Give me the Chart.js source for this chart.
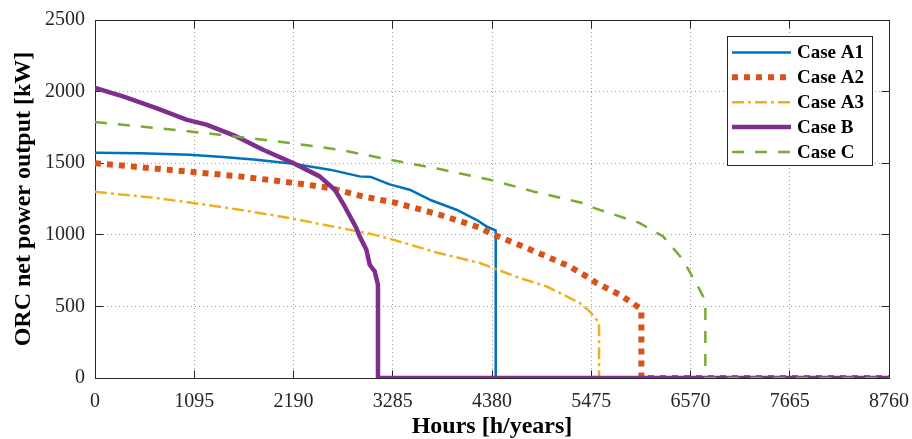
<!DOCTYPE html>
<html>
<head>
<meta charset="utf-8">
<script src="https://cdn.jsdelivr.net/npm/chart.js@4.4.1/dist/chart.umd.min.js"></script>
<style>
    html, body { margin: 0; padding: 0; background: #fff; }
    #wrap { width: 912px; height: 439px; }
</style>
</head>
<body>
<div id="wrap"><canvas id="graficoOrc"></canvas></div>
<script>
// Curvas de duração: horas acumuladas no ano x potência líquida do ORC [kW]
const horasA1 = [0, 500, 1045, 1412, 1780, 2185, 2590, 2920, 3049, 3251, 3472, 3693, 3987, 4208, 4318, 4421, 4421, 8760];
const potA1   = [1573, 1570, 1559, 1543, 1524, 1496, 1455, 1408, 1403, 1352, 1315, 1245, 1175, 1105, 1059, 1030, 0, 0];

const horasA2 = [0, 677, 1081, 1596, 2222, 2590, 2957, 3325, 3803, 4263, 4355, 4722, 5237, 5421, 5532, 5789, 6009, 6028, 6028, 8760];
const potA2   = [1500, 1462, 1438, 1408, 1360, 1327, 1268, 1222, 1140, 1047, 1012, 919, 779, 710, 663, 582, 489, 470, 0, 0];

const horasA3 = [0, 677, 1081, 1596, 2148, 2590, 3031, 3288, 3766, 4244, 4686, 4980, 5348, 5458, 5550, 5561, 5561, 8760];
const potA3   = [1300, 1257, 1222, 1175, 1117, 1062, 1008, 966, 877, 803, 698, 640, 524, 465, 395, 380, 0, 0];

const horasB = [0, 309, 677, 1008, 1229, 1560, 1854, 2185, 2479, 2645, 2755, 2884, 2920, 2994, 3031, 3086, 3122, 3122, 8760];
const potB   = [2025, 1966, 1885, 1804, 1769, 1687, 1594, 1501, 1408, 1315, 1198, 1047, 989, 896, 791, 744, 651, 0, 0];

const horasC = [0, 1045, 1596, 2148, 2700, 3251, 3803, 4355, 4833, 5384, 5495, 6009, 6267, 6487, 6671, 6726, 6734, 6734, 8760];
const potC   = [1788, 1722, 1683, 1641, 1594, 1524, 1459, 1385, 1303, 1222, 1190, 1082, 989, 826, 617, 547, 530, 0, 0];

const casos = ['Case A1', 'Case A2', 'Case A3', 'Case B', 'Case C'];
const ticksX = [0, 1095, 2190, 3285, 4380, 5475, 6570, 7665, 8760];
const ticksY = [0, 500, 1000, 1500, 2000, 2500];

// Estilo de cada curva (cores padrão do MATLAB)
const estilos = [
    { cor: '#0072BD', largura: 2.5, traco: [] },
    { cor: '#D95319', largura: 6, traco: [6, 6] },
    { cor: '#EDB120', largura: 2.5, traco: [12, 4, 3, 4] },
    { cor: '#7E2F8E', largura: 4.5, traco: [] },
    { cor: '#77AC30', largura: 2.5, traco: [12, 11] }
];

const series = [[horasA1, potA1], [horasA2, potA2], [horasA3, potA3], [horasB, potB], [horasC, potC]];

const FONTE = '"Liberation Serif", "Times New Roman", serif';
const COR_EIXO = '#262626';
const COR_GRADE = '#a0a0a0';

// Moldura com marcas para dentro nos quatro lados
const molduraPlugin = {
    id: 'moldura',
    beforeDatasetsDraw(chart) {
        const { ctx, chartArea: a, scales: { x, y } } = chart;
        const al = p => Math.round(p - 0.5) + 0.5;
        const L = al(a.left), R = al(a.right), T = al(a.top), B = al(a.bottom);
        const tam = 8;
        ctx.save();
        ctx.strokeStyle = COR_EIXO;
        ctx.lineWidth = 1;
        ctx.beginPath();
        ctx.rect(L, T, R - L, B - T);
        ticksX.forEach(v => {
            const px = al(x.getPixelForValue(v));
            ctx.moveTo(px, B); ctx.lineTo(px, B - tam);
            ctx.moveTo(px, T); ctx.lineTo(px, T + tam);
        });
        ticksY.forEach(v => {
            const py = al(y.getPixelForValue(v));
            ctx.moveTo(L, py); ctx.lineTo(L + tam, py);
            ctx.moveTo(R, py); ctx.lineTo(R - tam, py);
        });
        ctx.stroke();
        ctx.restore();
    }
};

// Legenda no canto superior direito
const legendaPlugin = {
    id: 'legenda',
    afterDraw(chart) {
        const { ctx } = chart;
        const x0 = 727, y0 = 36, w = 145, h = 129;
        ctx.save();
        ctx.fillStyle = '#fff';
        ctx.fillRect(x0, y0, w, h);
        ctx.strokeStyle = COR_EIXO;
        ctx.lineWidth = 1;
        ctx.strokeRect(x0 + 0.5, y0 + 0.5, w, h);
        chart.data.datasets.forEach((ds, i) => {
            const cy = y0 + 16.5 + i * 24.85;
            ctx.beginPath();
            ctx.setLineDash(ds.borderDash);
            ctx.lineWidth = ds.borderWidth;
            ctx.strokeStyle = ds.borderColor;
            ctx.lineCap = 'butt';
            ctx.moveTo(x0 + 5, cy);
            ctx.lineTo(x0 + 64, cy);
            ctx.stroke();
            ctx.setLineDash([]);
            ctx.fillStyle = '#000';
            ctx.font = 'bold 19px ' + FONTE;
            ctx.textBaseline = 'middle';
            ctx.textAlign = 'left';
            ctx.fillText(ds.label, x0 + 70, cy + 1);
        });
        ctx.restore();
    }
};

const datasets = series.map(([horas, pot], i) => ({
    label: casos[i],
    data: horas.map((h, k) => ({ x: h, y: pot[k] })),
    borderColor: estilos[i].cor,
    backgroundColor: estilos[i].cor,
    borderWidth: estilos[i].largura,
    borderDash: estilos[i].traco,
    borderJoinStyle: 'round',
    borderCapStyle: 'butt',
    pointRadius: 0,
    tension: 0,
    fill: false,
    order: casos.length - i
}));

new Chart(document.getElementById('graficoOrc'), {
    type: 'line',
    data: { datasets },
    options: {
        responsive: true,
        maintainAspectRatio: false,
        animation: false,
        layout: { padding: { left: 0, right: 23, top: 20, bottom: 0 } },
        plugins: {
            legend: { display: false },
            tooltip: { enabled: false }
        },
        scales: {
            x: {
                type: 'linear',
                min: 0,
                max: 8760,
                afterBuildTicks: axis => { axis.ticks = ticksX.map(v => ({ value: v })); },
                afterFit: scale => {
                    scale.height = 61;
                    // o rótulo 8760 pode passar da área do gráfico
                    scale.paddingLeft = 0;
                    scale.paddingRight = 0;
                },
                grid: { color: COR_GRADE, lineWidth: 1, drawTicks: false },
                border: { display: false, dash: [1, 3] },
                ticks: {
                    autoSkip: false,
                    maxRotation: 0,
                    padding: 12,
                    color: COR_EIXO,
                    font: { family: FONTE, size: 20 },
                    callback: v => String(v)
                },
                title: {
                    display: true,
                    text: 'Hours [h/years]',
                    color: '#000',
                    font: { family: FONTE, size: 24, weight: 'bold' },
                    padding: { top: 0, bottom: -2 }
                }
            },
            y: {
                type: 'linear',
                min: 0,
                max: 2500,
                afterBuildTicks: axis => { axis.ticks = ticksY.map(v => ({ value: v })); },
                afterFit: scale => {
                    scale.width = 95;
                    scale.paddingTop = 0;
                    scale.paddingBottom = 0;
                },
                grid: { color: COR_GRADE, lineWidth: 1, drawTicks: false },
                border: { display: false, dash: [1, 3] },
                ticks: {
                    padding: 10,
                    color: COR_EIXO,
                    font: { family: FONTE, size: 20 },
                    callback: v => String(v)
                },
                title: {
                    display: true,
                    text: 'ORC net power output [kW]',
                    color: '#000',
                    font: { family: FONTE, size: 24, weight: 'bold' },
                    padding: { top: 9, bottom: 0 }
                }
            }
        }
    },
    plugins: [molduraPlugin, legendaPlugin]
});
</script>
</body>
</html>
